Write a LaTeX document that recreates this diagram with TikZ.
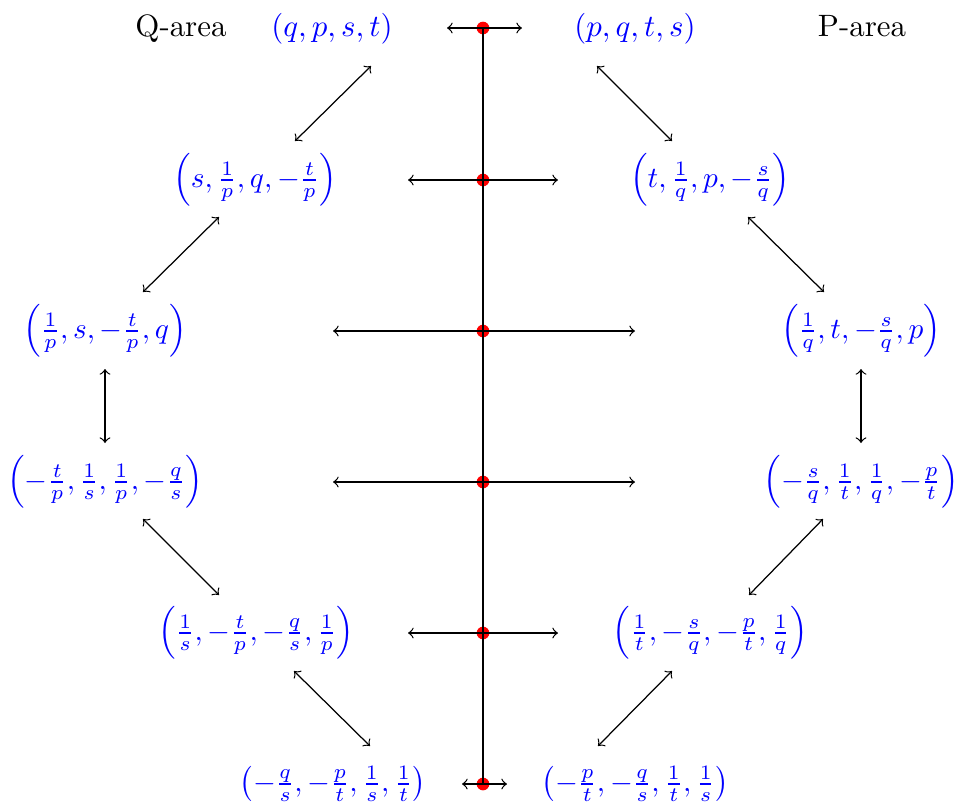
\documentclass[tikz,border=0pt]{standalone}
\usepackage{graphicx}
\newcommand{\fsc}[1]{\scalebox{0.95}{#1}}
\begin{document}
\begin{tikzpicture}[x=0.3236pt,y=-0.3236pt,
  expr/.style={text=blue, inner sep=0pt},
  lbl/.style={inner sep=0pt},
  dbl/.style={<->},
  reddot/.style={circle, fill=red, inner sep=0pt, minimum size=4.1pt}]
\useasboundingbox (0,0) rectangle (956,808);
% labels
\node[lbl, anchor=base] (qarea) at (181,36) {Q-area};
\node[lbl, anchor=base] (parea) at (862,36) {P-area};
% expressions
\node[expr, anchor=base] (a1) at (332,36) {$(q,p,s,t)$};
\node[expr, anchor=base] (b1) at (635,36) {$(p,q,t,s)$};
\node[expr] (a2) at (255,180) {\fsc{$\left(s,\frac1p,q,-\frac tp\right)$}};
\node[expr] (b2) at (710,180) {\fsc{$\left(t,\frac1q,p,-\frac sq\right)$}};
\node[expr] (a3) at (105,331) {\fsc{$\left(\frac1p,s,-\frac tp,q\right)$}};
\node[expr] (b3) at (861,331) {\fsc{$\left(\frac1q,t,-\frac sq,p\right)$}};
\node[expr] (a4) at (105,482) {\fsc{$\left(-\frac tp,\frac1s,\frac1p,-\frac qs\right)$}};
\node[expr] (b4) at (861,482) {\fsc{$\left(-\frac sq,\frac1t,\frac1q,-\frac pt\right)$}};
\node[expr] (a5) at (256,633) {\fsc{$\left(\frac1s,-\frac tp,-\frac qs,\frac1p\right)$}};
\node[expr] (b5) at (710,633) {\fsc{$\left(\frac1t,-\frac sq,-\frac pt,\frac1q\right)$}};
\node[expr] (a6) at (333,784) {\fsc{$\left(-\frac qs,-\frac pt,\frac1s,\frac1t\right)$}};
\node[expr] (b6) at (635,784) {\fsc{$\left(-\frac pt,-\frac qs,\frac1t,\frac1s\right)$}};
% dots on the axis
\node[reddot] (d1) at (483,28) {};
\node[reddot] (d2) at (483,180) {};
\node[reddot] (d3) at (483,331) {};
\node[reddot] (d4) at (483,482) {};
\node[reddot] (d5) at (483,633) {};
\node[reddot] (d6) at (483,784) {};
% horizontal arrow ends
\coordinate (h1l) at (447,28); \coordinate (h1r) at (522,28);
\coordinate (h2l) at (408,180); \coordinate (h2r) at (558,180);
\coordinate (h3l) at (333,331); \coordinate (h3r) at (635,331);
\coordinate (h4l) at (333,482); \coordinate (h4r) at (635,482);
\coordinate (h5l) at (408,633); \coordinate (h5r) at (558,633);
\coordinate (h6l) at (462,784); \coordinate (h6r) at (507,784);
\draw (d1.center) -- (d6.center);
\draw[dbl] (h1l) -- (h1r);
\draw[dbl] (h2l) -- (h2r);
\draw[dbl] (h3l) -- (h3r);
\draw[dbl] (h4l) -- (h4r);
\draw[dbl] (h5l) -- (h5r);
\draw[dbl] (h6l) -- (h6r);
% left chain arrow ends
\coordinate (l1s) at (371,66);  \coordinate (l1e) at (295,141);
\coordinate (l2s) at (219,217); \coordinate (l2e) at (143,292);
\coordinate (l3s) at (105,369); \coordinate (l3e) at (105,443);
\coordinate (l4s) at (143,519); \coordinate (l4e) at (219,595);
\coordinate (l5s) at (294,671); \coordinate (l5e) at (370,746);
% right chain arrow ends
\coordinate (r1s) at (597,66);  \coordinate (r1e) at (672,141);
\coordinate (r2s) at (748,217); \coordinate (r2e) at (824,292);
\coordinate (r3s) at (861,369); \coordinate (r3e) at (861,443);
\coordinate (r4s) at (823,519); \coordinate (r4e) at (749,595);
\coordinate (r5s) at (672,671); \coordinate (r5e) at (598,746);
\draw[dbl] (l1s) -- (l1e);
\draw[dbl] (l2s) -- (l2e);
\draw[dbl] (l3s) -- (l3e);
\draw[dbl] (l4s) -- (l4e);
\draw[dbl] (l5s) -- (l5e);
\draw[dbl] (r1s) -- (r1e);
\draw[dbl] (r2s) -- (r2e);
\draw[dbl] (r3s) -- (r3e);
\draw[dbl] (r4s) -- (r4e);
\draw[dbl] (r5s) -- (r5e);
\end{tikzpicture}
\end{document}
